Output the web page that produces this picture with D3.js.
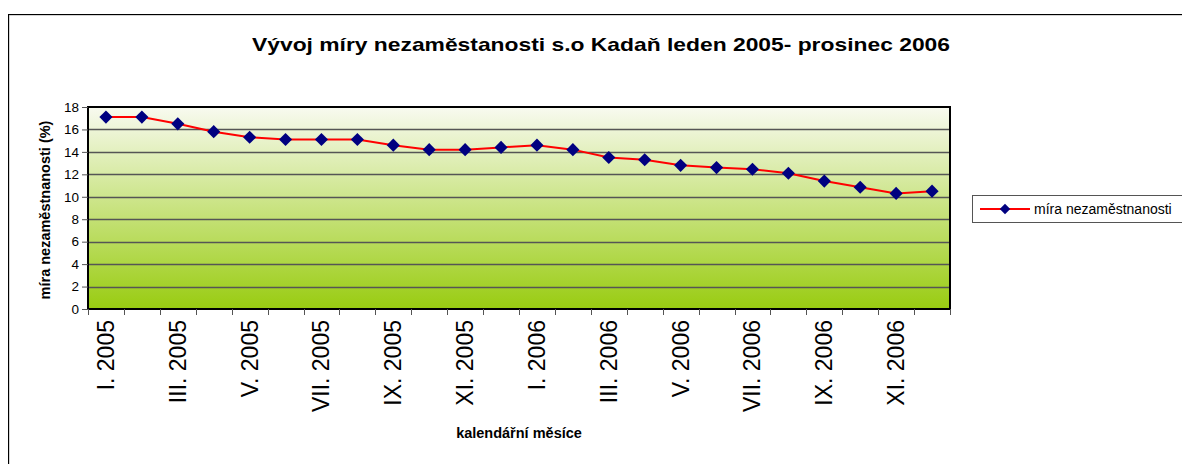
<!DOCTYPE html>
<html>
  <head>
    <meta charset="utf-8" />
    <title>Vývoj míry nezaměstanosti</title>
    <script src="https://d3js.org/d3.v7.min.js"></script>
    <style>
      body { margin: 0; background: #fff; }
      text { font-family: "Liberation Sans", Arial, sans-serif; }
    </style>
  </head>
  <body>
    <script>
      // data
      const months = ["I.", "II.", "III.", "IV.", "V.", "VI.", "VII.", "VIII.", "IX.", "X.", "XI.", "XII."];
      const years = [2005, 2006];
      const categories = years.flatMap((y) => months.map((m) => m + " " + y));
      const rate = [17.1, 17.1, 16.5, 15.8, 15.3, 15.1, 15.1, 15.1, 14.6, 14.2, 14.2, 14.4,
                    14.6, 14.2, 13.5, 13.3, 12.8, 12.6, 12.45, 12.1, 11.4, 10.85, 10.3, 10.5];
      const yTicks = [0, 2, 4, 6, 8, 10, 12, 14, 16, 18];
      const seriesName = "míra nezaměstnanosti";

      const W = 1182, H = 464;
      const plot = { left: 88, right: 950, top: 107, bottom: 309 };

      const svg = d3.select("body").append("svg")
        .attr("width", W)
        .attr("height", H);

      // outer chart frame
      svg.append("rect")
        .attr("x", 9).attr("y", 15)
        .attr("width", W + 20).attr("height", H + 20)
        .attr("fill", "none").attr("stroke", "#aaa").attr("stroke-width", 1);
      svg.append("rect")
        .attr("x", 8.5).attr("y", 14.5)
        .attr("width", W + 20).attr("height", H + 20)
        .attr("fill", "none").attr("stroke", "#000").attr("stroke-width", 1);

      const x = d3.scaleBand()
        .domain(categories)
        .range([plot.left, plot.right]);
      const y = d3.scaleLinear()
        .domain([0, 18])
        .range([plot.bottom, plot.top]);

      // background gradient
      const grad = svg.append("defs").append("linearGradient")
        .attr("id", "bg").attr("x1", 0).attr("y1", 0).attr("x2", 0).attr("y2", 1);
      grad.append("stop").attr("offset", "0%").attr("stop-color", "#f8faf0");
      grad.append("stop").attr("offset", "100%").attr("stop-color", "#99cc11");

      svg.append("rect")
        .attr("x", plot.left).attr("y", plot.top)
        .attr("width", plot.right - plot.left)
        .attr("height", plot.bottom - plot.top)
        .attr("fill", "url(#bg)");

      // gridlines
      svg.append("g")
        .selectAll("line")
        .data(yTicks.slice(1, -1))
        .join("line")
        .attr("x1", plot.left).attr("x2", plot.right)
        .attr("y1", (d) => Math.round(y(d)) + 0.5)
        .attr("y2", (d) => Math.round(y(d)) + 0.5)
        .attr("stroke", "#555").attr("stroke-width", 1.3);

      // plot border
      svg.append("rect")
        .attr("x", plot.left).attr("y", plot.top)
        .attr("width", plot.right - plot.left)
        .attr("height", plot.bottom - plot.top)
        .attr("fill", "none").attr("stroke", "#000").attr("stroke-width", 2);

      // y axis
      const yAxis = svg.append("g")
        .attr("transform", `translate(${plot.left},0)`)
        .call(d3.axisLeft(y).tickValues(yTicks).tickSize(6).tickPadding(3));
      yAxis.select(".domain").remove();
      yAxis.selectAll(".tick line").attr("stroke", "#555");
      yAxis.selectAll(".tick text")
        .attr("fill", "#000")
        .style("font-size", "13.5px")
        .style("font-family", "'Liberation Sans', Arial, sans-serif");

      // x axis ticks at category boundaries
      const bounds = categories.map((c) => x(c)).concat([plot.right]);
      svg.append("g")
        .selectAll("line")
        .data(bounds)
        .join("line")
        .attr("x1", (d) => Math.round(d) + 0.5).attr("x2", (d) => Math.round(d) + 0.5)
        .attr("y1", plot.bottom).attr("y2", plot.bottom + 6)
        .attr("stroke", "#555");

      // x labels, every second month
      svg.append("g")
        .selectAll("text")
        .data(categories.filter((d, i) => i % 2 === 0))
        .join("text")
        .attr("transform", (d) => `translate(${x(d) + x.bandwidth() / 2 + 8},320) rotate(-90)`)
        .attr("text-anchor", "end")
        .style("font-size", "23px")
        .text((d) => d);

      // series
      const cx = (d, i) => x(categories[i]) + x.bandwidth() / 2;
      svg.append("path")
        .datum(rate)
        .attr("fill", "none")
        .attr("stroke", "#ff0000")
        .attr("stroke-width", 2)
        .attr("d", d3.line().x(cx).y((d) => y(d)));

      const diamond = d3.symbol().type(d3.symbolDiamond2).size(110);
      svg.append("g")
        .selectAll("path")
        .data(rate)
        .join("path")
        .attr("transform", (d, i) => `translate(${cx(d, i)},${y(d)})`)
        .attr("d", diamond)
        .attr("fill", "#000080");

      // titles
      svg.append("text")
        .attr("x", 601).attr("y", 51)
        .attr("text-anchor", "middle")
        .attr("textLength", 698)
        .attr("lengthAdjust", "spacingAndGlyphs")
        .style("font-size", "19px")
        .style("font-weight", "bold")
        .text("Vývoj míry nezaměstanosti s.o Kadaň leden 2005- prosinec 2006");

      svg.append("text")
        .attr("transform", `translate(50,210) rotate(-90)`)
        .attr("text-anchor", "middle")
        .style("font-size", "14.5px")
        .style("font-weight", "bold")
        .text("míra nezaměstnanosti (%)");

      svg.append("text")
        .attr("x", (plot.left + plot.right) / 2).attr("y", 438)
        .attr("text-anchor", "middle")
        .style("font-size", "14.5px")
        .style("font-weight", "bold")
        .text("kalendářní měsíce");

      // legend
      const lg = svg.append("g").attr("transform", "translate(972,195)");
      lg.append("rect")
        .attr("x", 0.5).attr("y", 0.5)
        .attr("width", 240).attr("height", 27)
        .attr("fill", "#fff").attr("stroke", "#555");
      lg.append("line")
        .attr("x1", 8).attr("x2", 58).attr("y1", 14).attr("y2", 14)
        .attr("stroke", "#ff0000").attr("stroke-width", 2);
      lg.append("path")
        .attr("transform", "translate(33,14)")
        .attr("d", d3.symbol().type(d3.symbolDiamond2).size(70))
        .attr("fill", "#000080");
      lg.append("text")
        .attr("x", 62).attr("y", 19)
        .style("font-size", "14px")
        .text(seriesName);
    </script>
  </body>
</html>
